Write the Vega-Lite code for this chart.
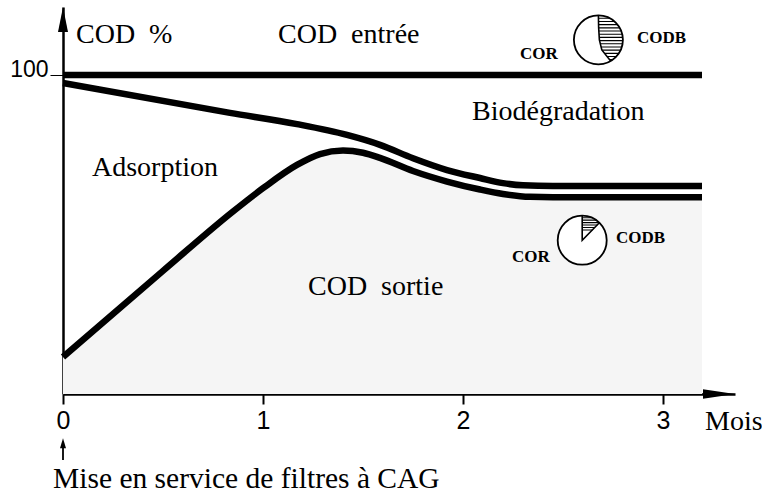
{
  "$schema": "https://vega.github.io/schema/vega-lite/v6.json",
  "width": 672,
  "height": 387,
  "autosize": {"type": "none"},
  "padding": {"left": 63, "top": 7, "right": 27, "bottom": 99},
  "background": "white",
  "config": {
    "view": {"stroke": null},
    "axis": {"grid": false, "title": null, "domainColor": "black", "tickColor": "black", "labelColor": "black", "zindex": 1}
  },
  "datasets": {
    "curves": [
      {"s": "entree", "m": 0, "v": 100},
      {"s": "entree", "m": 3.195, "v": 100},
      {"s": "upper", "m": 0, "v": 97.5},
      {"s": "upper", "m": 0.835, "v": 88.1},
      {"s": "upper", "m": 1.17, "v": 84.6},
      {"s": "upper", "m": 1.42, "v": 81.2},
      {"s": "upper", "m": 1.585, "v": 78.1},
      {"s": "upper", "m": 1.75, "v": 73.9},
      {"s": "upper", "m": 1.92, "v": 70.2},
      {"s": "upper", "m": 2.085, "v": 67.7},
      {"s": "upper", "m": 2.2, "v": 66.1},
      {"s": "upper", "m": 2.3, "v": 65.4},
      {"s": "upper", "m": 2.45, "v": 65.2},
      {"s": "upper", "m": 3.195, "v": 65.2},
      {"s": "lower", "m": 0, "v": 11.6},
      {"s": "lower", "m": 0.5, "v": 38.6},
      {"s": "lower", "m": 0.85, "v": 57.2},
      {"s": "lower", "m": 1.0, "v": 64.5},
      {"s": "lower", "m": 1.17, "v": 71.8},
      {"s": "lower", "m": 1.285, "v": 75.2},
      {"s": "lower", "m": 1.4, "v": 76.3},
      {"s": "lower", "m": 1.5, "v": 75.6},
      {"s": "lower", "m": 1.585, "v": 74.0},
      {"s": "lower", "m": 1.75, "v": 69.9},
      {"s": "lower", "m": 1.92, "v": 66.6},
      {"s": "lower", "m": 2.085, "v": 64.1},
      {"s": "lower", "m": 2.2, "v": 62.7},
      {"s": "lower", "m": 2.335, "v": 61.8},
      {"s": "lower", "m": 2.45, "v": 61.7},
      {"s": "lower", "m": 3.195, "v": 61.7}
    ],
    "labels": [
      {"t": "COD\u00a0\u00a0%", "m": 0.065, "v": 110.0},
      {"t": "COD\u00a0\u00a0entrée", "m": 1.075, "v": 110.0},
      {"t": "Biodégradation", "m": 2.045, "v": 85.9},
      {"t": "Adsorption", "m": 0.145, "v": 68.3},
      {"t": "COD\u00a0\u00a0sortie", "m": 1.225, "v": 31.0},
      {"t": "Mois", "m": 3.21, "v": -11.3}
    ],
    "small": [
      {"t": "COR", "m": 2.285, "v": 105.0},
      {"t": "CODB", "m": 2.87, "v": 110.0},
      {"t": "COR", "m": 2.245, "v": 41.4},
      {"t": "CODB", "m": 2.765, "v": 47.3}
    ],
    "pies": [
      {"p": "top", "m": 2.677, "v": 111.0},
      {"p": "bottom", "m": 2.596, "v": 48.2}
    ]
  },
  "layer": [
    {
      "data": {"name": "curves"},
      "transform": [{"filter": "datum.s === 'lower'"}],
      "mark": {"type": "area", "interpolate": "monotone", "fill": "#f5f5f5"},
      "encoding": {
        "x": {"field": "m", "type": "quantitative", "scale": {"domain": [0, 3.36], "nice": false, "zero": false},
          "axis": {"values": [0, 1, 2, 3], "format": "d", "domainWidth": 2.5, "tickWidth": 2, "tickSize": 10, "labelFont": "Liberation Sans", "labelFontSize": 25, "labelPadding": 4, "labelFlush": false, "labelOverlap": false}},
        "y": {"field": "v", "type": "quantitative", "scale": {"domain": [0, 121.3], "nice": false},
          "axis": {"values": [100], "format": "d", "domainWidth": 2.5, "tickWidth": 1, "tickSize": 13, "labelFont": "Liberation Sans", "labelFontSize": 23, "labelBaseline": "alphabetic", "labelOffset": 2, "labelPadding": 2}}
      }
    },
    {
      "data": {"name": "curves"},
      "mark": {"type": "line", "interpolate": "monotone", "color": "black", "strokeWidth": 6.5, "strokeCap": "butt"},
      "encoding": {
        "x": {"field": "m", "type": "quantitative"},
        "y": {"field": "v", "type": "quantitative"},
        "detail": {"field": "s"}
      }
    },
    {
      "data": {"name": "pies"},
      "mark": {"type": "point", "shape": "circle", "size": 2401, "filled": true, "fill": "white", "stroke": "black", "strokeWidth": 1.8, "opacity": 1},
      "encoding": {"x": {"field": "m", "type": "quantitative"}, "y": {"field": "v", "type": "quantitative"}}
    },
    {
      "data": {"name": "pies"},
      "transform": [{"filter": "datum.p === 'top'"}],
      "mark": {"type": "point", "size": 2401, "filled": false, "stroke": "black", "strokeWidth": 1.1, "opacity": 1,
        "shape": "M0.005,-0.88 L0.475,-0.88 M0.01,-0.75 L0.661,-0.75 M0.015,-0.62 L0.785,-0.62 M0.02,-0.49 L0.872,-0.49 M0.026,-0.36 L0.933,-0.36 M0.031,-0.23 L0.973,-0.23 M0.036,-0.1 L0.995,-0.1 M0.047,0.03 L0.999,0.03 M0.079,0.16 L0.987,0.16 M0.111,0.29 L0.957,0.29 M0.148,0.42 L0.908,0.42 M0.25,0.55 L0.835,0.55 M0.353,0.68 L0.733,0.68 M0.448,0.8 L0.6,0.8"},
      "encoding": {"x": {"field": "m", "type": "quantitative"}, "y": {"field": "v", "type": "quantitative"}}
    },
    {
      "data": {"name": "pies"},
      "transform": [{"filter": "datum.p === 'top'"}],
      "mark": {"type": "point", "size": 2401, "filled": false, "stroke": "black", "strokeWidth": 1.6, "opacity": 1,
        "shape": "M0,-1 L0.01,-0.5 L0.04,0 L0.14,0.41 L0.5,0.866"},
      "encoding": {"x": {"field": "m", "type": "quantitative"}, "y": {"field": "v", "type": "quantitative"}}
    },
    {
      "data": {"name": "pies"},
      "transform": [{"filter": "datum.p === 'bottom'"}],
      "mark": {"type": "point", "size": 2401, "filled": false, "stroke": "black", "strokeWidth": 1.1, "opacity": 1,
        "shape": "M0,-0.92 L0.392,-0.92 M0,-0.82 L0.572,-0.82 M0,-0.72 L0.694,-0.72 M0,-0.62 L0.62,-0.62 M0,-0.52 L0.52,-0.52 M0,-0.42 L0.42,-0.42"},
      "encoding": {"x": {"field": "m", "type": "quantitative"}, "y": {"field": "v", "type": "quantitative"}}
    },
    {
      "data": {"name": "pies"},
      "transform": [{"filter": "datum.p === 'bottom'"}],
      "mark": {"type": "point", "size": 2401, "filled": false, "stroke": "black", "strokeWidth": 1.6, "opacity": 1,
        "shape": "M0,-1 L0,0 L0.7,-0.714"},
      "encoding": {"x": {"field": "m", "type": "quantitative"}, "y": {"field": "v", "type": "quantitative"}}
    },
    {
      "data": {"name": "labels"},
      "mark": {"type": "text", "align": "left", "baseline": "alphabetic", "font": "Liberation Serif", "fontSize": 28, "color": "black"},
      "encoding": {"x": {"field": "m", "type": "quantitative"}, "y": {"field": "v", "type": "quantitative"}, "text": {"field": "t"}}
    },
    {
      "data": {"values": [{"t": "Mise en service de filtres à CAG", "m": -0.05, "v": -29.5}]},
      "mark": {"type": "text", "align": "left", "baseline": "alphabetic", "font": "Liberation Serif", "fontSize": 29.5, "color": "black"},
      "encoding": {"x": {"field": "m", "type": "quantitative"}, "y": {"field": "v", "type": "quantitative"}, "text": {"field": "t"}}
    },
    {
      "data": {"name": "small"},
      "mark": {"type": "text", "align": "left", "baseline": "alphabetic", "font": "Liberation Serif", "fontSize": 17, "fontWeight": "bold", "color": "black"},
      "encoding": {"x": {"field": "m", "type": "quantitative"}, "y": {"field": "v", "type": "quantitative"}, "text": {"field": "t"}}
    },
    {
      "data": {"values": [{"m": 0, "v": 117.4}]},
      "mark": {"type": "point", "size": 625, "filled": true, "color": "black", "opacity": 1, "shape": "M0,-1 L0.4,1 L-0.4,1 Z"},
      "encoding": {"x": {"field": "m", "type": "quantitative"}, "y": {"field": "v", "type": "quantitative"}}
    },
    {
      "data": {"values": [{"m": 3.28, "v": 0}]},
      "mark": {"type": "point", "size": 1024, "filled": true, "color": "black", "opacity": 1, "shape": "M1,0 L-1,-0.3 L-1,0.3 Z"},
      "encoding": {"x": {"field": "m", "type": "quantitative"}, "y": {"field": "v", "type": "quantitative"}}
    },
    {
      "data": {"values": [{"m": 0, "v": -20.7, "v2": -15.5}]},
      "mark": {"type": "rule", "color": "black", "strokeWidth": 1.8},
      "encoding": {"x": {"field": "m", "type": "quantitative"}, "y": {"field": "v", "type": "quantitative"}, "y2": {"field": "v2"}}
    },
    {
      "data": {"values": [{"m": 0, "v": -15.4}]},
      "mark": {"type": "point", "size": 100, "filled": true, "color": "black", "opacity": 1, "shape": "M0,-1 L0.6,1 L-0.6,1 Z"},
      "encoding": {"x": {"field": "m", "type": "quantitative"}, "y": {"field": "v", "type": "quantitative"}}
    }
  ]
}
